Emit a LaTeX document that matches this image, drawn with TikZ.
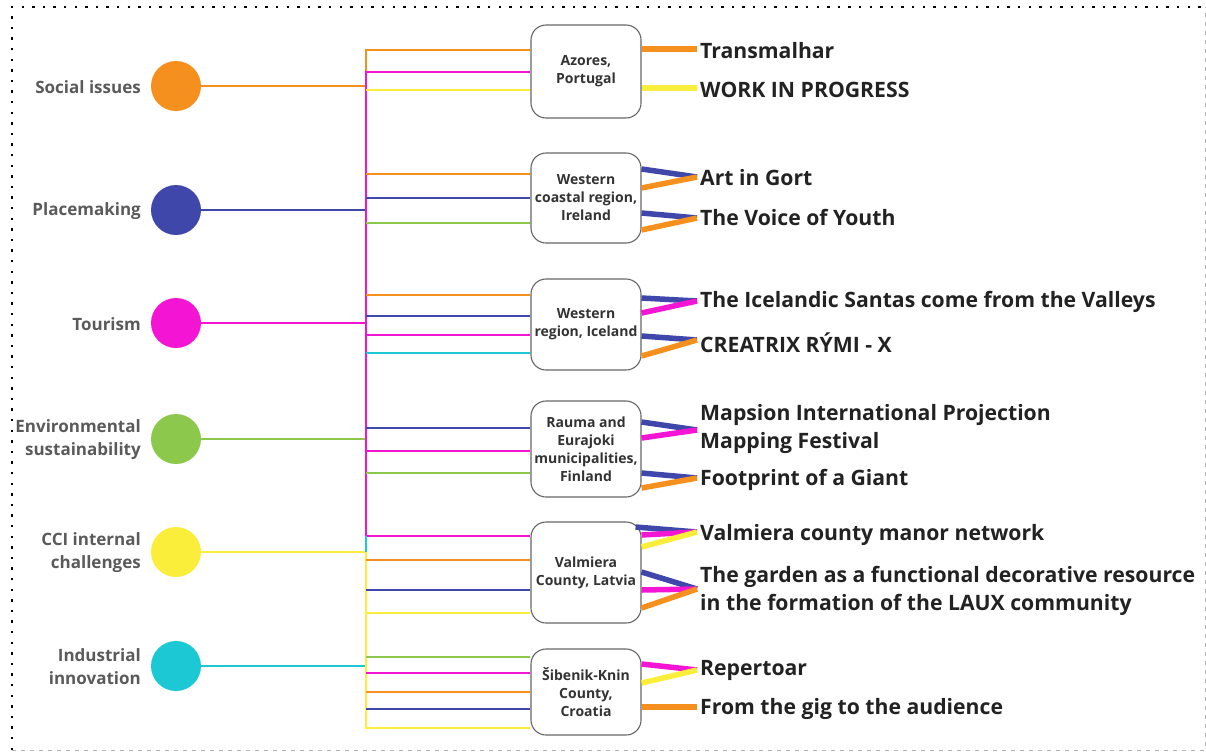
\documentclass[tikz,border=0pt]{standalone}
\usepackage{fontspec}
\setmainfont{Open Sans}
\definecolor{cOr}{HTML}{F5901E}
\definecolor{cBl}{HTML}{3F48AA}
\definecolor{cMg}{HTML}{F414D4}
\definecolor{cGr}{HTML}{8CC84B}
\definecolor{cYe}{HTML}{FBEE3A}
\definecolor{cCy}{HTML}{1CC8D4}
\definecolor{cLbl}{HTML}{5A5A5A}
\definecolor{cTxt}{HTML}{222222}
\definecolor{cBox}{HTML}{333333}
\begin{document}
\begin{tikzpicture}[x=1pt,y=-1pt,
  dotcircle/.style={circle,minimum size=50pt,inner sep=0pt,draw=none},
  themelbl/.style={anchor=east,inner sep=0pt,align=right,text=cLbl,font=\fontsize{17}{23}\selectfont\bfseries},
  regionbox/.style={draw=gray!80!black,line width=1.1pt,rounded corners=15pt,fill=white,minimum width=110pt,align=center,inner sep=0pt,text=cBox,font=\fontsize{14}{18}\selectfont\bfseries},
  projlbl/.style={anchor=west,inner sep=0pt,align=left,text=cTxt,font=\fontsize{21.2}{28}\selectfont\bfseries},
  thin/.style={line width=2pt},
  thick/.style={line width=5.5pt}]
\useasboundingbox (0,0) rectangle (1206,753);
% border
\draw[line width=2.4pt,dash pattern=on 2.4pt off 8.2pt] (12,750) -- (12,7) -- (1205,7);
\draw[gray!60,line width=0.9pt,dash pattern=on 4pt off 5pt] (12,750) -- (1205,750) -- (1205,7);

% theme circles
\node[dotcircle,fill=cOr] (soc) at (176,86) {};
\node[dotcircle,fill=cBl] (pla) at (176,210) {};
\node[dotcircle,fill=cMg] (tou) at (176,323) {};
\node[dotcircle,fill=cGr] (env) at (176,439) {};
\node[dotcircle,fill=cYe] (cci) at (176,552) {};
\node[dotcircle,fill=cCy] (ind) at (176,666) {};
\node[themelbl] (lsoc) at (141,87) {Social issues};
\node[themelbl] (lpla) at (141,211) {Placemaking};
\node[themelbl] (ltou) at (141,324) {Tourism};
\node[themelbl] (lenv) at (141,440) {Environmental\\sustainability};
\node[themelbl] (lcci) at (141,553) {CCI internal\\challenges};
\node[themelbl] (lind) at (141,667) {Industrial\\innovation};

% region boxes
\node[regionbox,minimum height=93pt] (az) at (586,71.5) {Azores,\\Portugal};
\node[regionbox,minimum height=90pt] (ie) at (586,198) {Western\\coastal region,\\Ireland};
\node[regionbox,minimum height=91pt] (is) at (586,324.5) {Western\\region, Iceland};
\node[regionbox,minimum height=96pt] (fi) at (586,449) {Rauma and\\Eurajoki\\municipalities,\\Finland};
\node[regionbox,minimum height=101pt] (lv) at (586,572.5) {Valmiera\\County, Latvia};
\node[regionbox,minimum height=86pt] (hr) at (586,692) {Šibenik-Knin\\County,\\Croatia};

% bus coordinates
\coordinate (bTop) at (366,50);
\coordinate (bSoc) at (366,86);
\coordinate (bMgT) at (366,72);
\coordinate (bPla) at (366,210);
\coordinate (bTou) at (366,323);
\coordinate (bEnv) at (366,439);
\coordinate (bMgB) at (366,536);
\coordinate (bCci) at (366,552);
\coordinate (bInd) at (366,666);
\coordinate (bBot) at (366,728);

% theme lines to bus
\draw[thin,cOr] (soc.east) -- (bSoc);
\draw[thin,cBl] (pla.east) -- (bPla);
\draw[thin,cMg] (tou.east) -- (bTou);
\draw[thin,cGr] (env.east) -- (bEnv);
\draw[thin,cYe] (cci.east) -- (bCci);
\draw[thin,cCy] (ind.east) -- (bInd);

% bus verticals
\draw[thin,cOr] (bSoc) -- (bTop) -- (az.west |- 0,50);
\draw[thin,cMg] (az.west |- 0,72) -- (bMgT) -- (bMgB) -- (lv.west |- 0,536);
\draw[thin,cCy] (bMgB) -- (bCci);
\draw[thin,cYe] (bCci) -- (bBot) -- (hr.west |- 0,728);

% horizontals to boxes
\draw[thin,cYe] (366,90) -- (az.west |- 0,90);
\draw[thin,cOr] (366,174) -- (ie.west |- 0,174);
\draw[thin,cBl] (366,198) -- (ie.west |- 0,198);
\draw[thin,cGr] (366,223) -- (ie.west |- 0,223);
\draw[thin,cOr] (366,295) -- (is.west |- 0,295);
\draw[thin,cBl] (366,316) -- (is.west |- 0,316);
\draw[thin,cMg] (366,335) -- (is.west |- 0,335);
\draw[thin,cCy] (366,353) -- (is.west |- 0,353);
\draw[thin,cBl] (366,428) -- (fi.west |- 0,428);
\draw[thin,cMg] (366,451) -- (fi.west |- 0,451);
\draw[thin,cGr] (366,473) -- (fi.west |- 0,473);
\draw[thin,cOr] (366,560) -- (lv.west |- 0,560);
\draw[thin,cBl] (366,590) -- (lv.west |- 0,590);
\draw[thin,cYe] (366,613) -- (lv.west |- 0,613);
\draw[thin,cGr] (366,657) -- (hr.west |- 0,657);
\draw[thin,cMg] (366,673) -- (hr.west |- 0,673);
\draw[thin,cOr] (366,692) -- (hr.west |- 0,692);
\draw[thin,cBl] (366,709) -- (hr.west |- 0,709);

% project labels
\node[projlbl] (p1) at (700,51) {Transmalhar};
\node[projlbl] (p2) at (700,90) {WORK IN PROGRESS};
\node[projlbl] (p3) at (700,178) {Art in Gort};
\node[projlbl] (p4) at (700,217) {The Voice of Youth};
\node[projlbl] (p5) at (700,302) {The Icelandic Santas come from the Valleys};
\node[projlbl] (p6) at (700,343) {CREATRIX RÝMI - X};
\node[projlbl] (p7) at (700,429) {Mapsion International Projection\\Mapping Festival};
\node[projlbl] (p8) at (700,480) {Footprint of a Giant};
\node[projlbl] (p9) at (700,535) {Valmiera county manor network};
\node[projlbl] (p10) at (700,591) {The garden as a functional decorative resource\\in the formation of the LAUX community};
\node[projlbl] (p11) at (700,670) {Repertoar};
\node[projlbl] (p12) at (700,709) {From the gig to the audience};

% tips
\coordinate (t1) at (697,49);
\coordinate (t2) at (697,88);
\coordinate (t3) at (697,177);
\coordinate (t4) at (697,218);
\coordinate (t5) at (697,301);
\coordinate (t6) at (697,340);
\coordinate (t7) at (697,430);
\coordinate (t8) at (697,478);
\coordinate (t9) at (697,532);
\coordinate (t10) at (697,589);
\coordinate (t11) at (697,670);
\coordinate (t12) at (697,707);

% thick project connectors
\draw[thick,cOr] (az.east |- 0,49) -- (t1);
\draw[thick,cYe] (az.east |- 0,88) -- (t2);
\draw[thick,cBl] (ie.east |- 0,169) -- (t3);
\draw[thick,cOr] (ie.east |- 0,188) -- (t3);
\draw[thick,cBl] (ie.east |- 0,213) -- (t4);
\draw[thick,cOr] (ie.east |- 0,230) -- (t4);
\draw[thick,cBl] (is.east |- 0,298) -- (t5);
\draw[thick,cMg] (is.east |- 0,313) -- (t5);
\draw[thick,cBl] (is.east |- 0,336) -- (t6);
\draw[thick,cOr] (is.east |- 0,356) -- (t6);
\draw[thick,cBl] (fi.east |- 0,422) -- (t7);
\draw[thick,cMg] (fi.east |- 0,438) -- (t7);
\draw[thick,cBl] (fi.east |- 0,473) -- (t8);
\draw[thick,cOr] (fi.east |- 0,488) -- (t8);
\draw[thick,cBl] ([xshift=-6pt]lv.east |- 0,527) -- (t9);
\draw[thick,cMg] (lv.east |- 0,535) -- (t9);
\draw[thick,cYe] (lv.east |- 0,547) -- (t9);
\draw[thick,cBl] (lv.east |- 0,572) -- (t10);
\draw[thick,cMg] (lv.east |- 0,590) -- (t10);
\draw[thick,cOr] (lv.east |- 0,608) -- (t10);
\draw[thick,cMg] (hr.east |- 0,664) -- (t11);
\draw[thick,cYe] (hr.east |- 0,683) -- (t11);
\draw[thick,cOr] (hr.east |- 0,707) -- (t12);
\end{tikzpicture}
\end{document}
